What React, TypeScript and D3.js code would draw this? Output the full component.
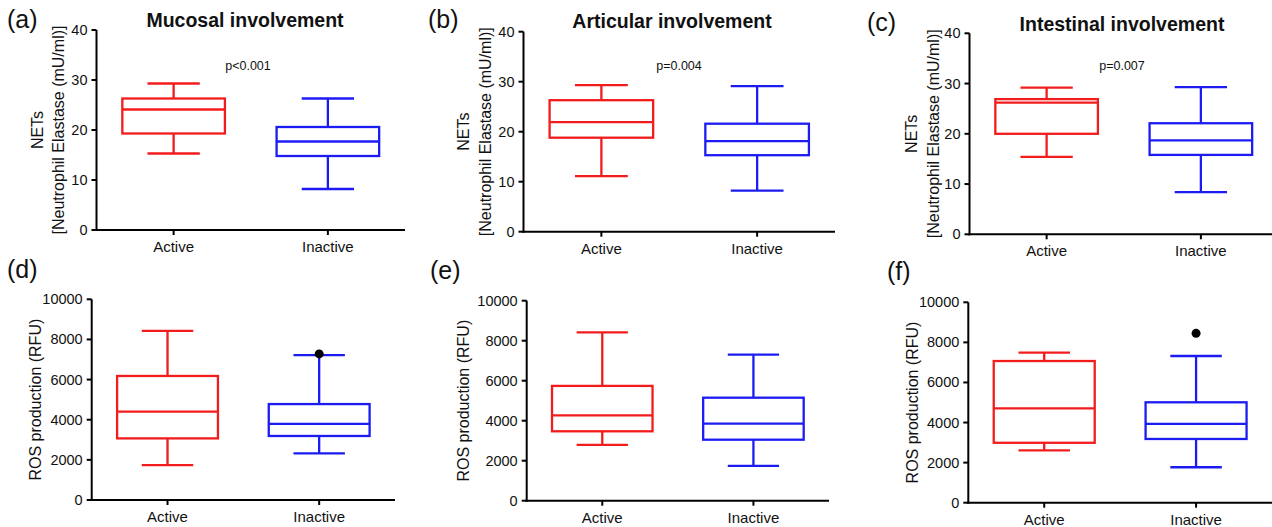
import React from "react";
import * as d3 from "d3";

const groups = ["Active", "Inactive"];
const panelLetters = ["(a)", "(b)", "(c)", "(d)", "(e)", "(f)"];
const panelTitles = ["Mucosal involvement", "Articular involvement", "Intestinal involvement", "", "", ""];
const pLabels = ["p<0.001", "p=0.004", "p=0.007", "", "", ""];
const netsLabel = ["NETs", "[Neutrophil Elastase (mU/ml)]"];
const rosLabel = ["ROS production (RFU)"];
const netsTicks = [0, 10, 20, 30, 40];
const rosTicks = [0, 2000, 4000, 6000, 8000, 10000];

// [min, q1, median, q3, max]
const activeStats = [
  [15.3, 19.3, 24.1, 26.3, 29.3],
  [11.1, 18.8, 21.9, 26.3, 29.3],
  [15.4, 20.0, 26.2, 26.9, 29.2],
  [1740, 3070, 4400, 6180, 8430],
  [2790, 3470, 4270, 5740, 8420],
  [2610, 2990, 4710, 7070, 7490],
];
const inactiveStats = [
  [8.2, 14.8, 17.7, 20.6, 26.3],
  [8.2, 15.3, 18.1, 21.6, 29.1],
  [8.4, 15.8, 18.7, 22.1, 29.3],
  [2320, 3190, 3790, 4780, 7220],
  [1740, 3050, 3850, 5150, 7300],
  [1770, 3180, 3930, 5010, 7320],
];
const outlierPanels = [3, 5];
const outlierGroups = ["Inactive", "Inactive"];
const outlierValues = [7280, 8450];

// layout (pixel frames of each panel)
const frames = [
  { x0: 96.5, x1: 405, yTop: 30, yBot: 230, yl: [-59, -38], title: [245, 27], letter: [7, 28], p: [248, 70] },
  { x0: 523.5, x1: 835, yTop: 31.7, yBot: 231.7, yl: [-60, -38.5], title: [672, 28], letter: [428, 28], p: [679, 70] },
  { x0: 969.5, x1: 1278, yTop: 33.3, yBot: 234.3, yl: [-58, -36], title: [1122, 31], letter: [867, 31], p: [1122, 70] },
  { x0: 91.7, x1: 395, yTop: 299.3, yBot: 500, yl: [-56], title: [0, 0], letter: [7, 278], p: [0, 0] },
  { x0: 526.7, x1: 829, yTop: 300.7, yBot: 500.7, yl: [-63.5], title: [0, 0], letter: [430, 279], p: [0, 0] },
  { x0: 968.3, x1: 1272, yTop: 302.3, yBot: 502.7, yl: [-56], title: [0, 0], letter: [887, 280], p: [0, 0] },
];

const RED = "#f21c1c";
const BLUE = "#1c1cf2";
const FONT = "'Liberation Sans', Arial, sans-serif";

function Panel({ i }: { i: number }) {
  const f = frames[i];
  const isNets = i < 3;
  const ticks = isNets ? netsTicks : rosTicks;
  const y = d3.scaleLinear().domain([0, ticks[ticks.length - 1]]).range([f.yBot, f.yTop]);
  const x = d3.scalePoint<string>().domain(groups).range([f.x0, f.x1]).padding(0.5);
  const step = x.step();
  const boxW = step * 0.665;
  const capW = boxW * 0.51;
  const stats = [activeStats[i], inactiveStats[i]];
  const colors = [RED, BLUE];
  const labels = isNets ? netsLabel : rosLabel;
  const midY = (f.yTop + f.yBot) / 2;
  return (
    <g>
      {groups.map((g, gi) => {
        const s = stats[gi];
        const cx = x(g)!;
        const c = colors[gi];
        return (
          <g key={g} stroke={c} strokeWidth={2.3} fill="none">
            <line x1={cx} x2={cx} y1={y(s[0])} y2={y(s[1])} />
            <line x1={cx} x2={cx} y1={y(s[3])} y2={y(s[4])} />
            <line x1={cx - capW / 2} x2={cx + capW / 2} y1={y(s[0])} y2={y(s[0])} />
            <line x1={cx - capW / 2} x2={cx + capW / 2} y1={y(s[4])} y2={y(s[4])} />
            <rect x={cx - boxW / 2} y={y(s[3])} width={boxW} height={y(s[1]) - y(s[3])} />
            <line x1={cx - boxW / 2} x2={cx + boxW / 2} y1={y(s[2])} y2={y(s[2])} />
          </g>
        );
      })}
      {outlierPanels.map((p, k) =>
        p === i ? <circle key={k} cx={x(outlierGroups[k])!} cy={y(outlierValues[k])} r={4.5} fill="#000" /> : null
      )}
      <line x1={f.x0} x2={f.x0} y1={f.yTop} y2={f.yBot + 1} stroke="#000" strokeWidth={2} />
      <line x1={f.x0 - 1} x2={f.x1} y1={f.yBot} y2={f.yBot} stroke="#000" strokeWidth={2} />
      {ticks.map((t) => (
        <g key={t}>
          <line x1={f.x0 - 5} x2={f.x0} y1={y(t)} y2={y(t)} stroke="#000" strokeWidth={2} />
          <text x={f.x0 - 9} y={y(t) + 5} textAnchor="end" fontSize={14.5} fontFamily={FONT} fill="#111">
            {t}
          </text>
        </g>
      ))}
      {groups.map((g) => (
        <g key={g}>
          <line x1={x(g)} x2={x(g)} y1={f.yBot} y2={f.yBot + 5} stroke="#000" strokeWidth={2} />
          <text x={x(g)} y={f.yBot + 22} textAnchor="middle" fontSize={15} fontFamily={FONT} fill="#111">
            {g}
          </text>
        </g>
      ))}
      {labels.map((l, li) => (
        <text
          key={l}
          transform={`translate(${f.x0 + f.yl[li]},${midY}) rotate(-90)`}
          dy="0.35em"
          textAnchor="middle"
          fontSize={16}
          fontFamily={FONT}
          fill="#111"
        >
          {l}
        </text>
      ))}
      <text x={f.letter[0]} y={f.letter[1]} fontSize={25} fontFamily={FONT} fill="#111">
        {panelLetters[i]}
      </text>
      {panelTitles[i] && (
        <text x={f.title[0]} y={f.title[1]} textAnchor="middle" fontSize={19.5} fontWeight="bold" fontFamily={FONT} fill="#111">
          {panelTitles[i]}
        </text>
      )}
      {pLabels[i] && (
        <text x={f.p[0]} y={f.p[1]} textAnchor="middle" fontSize={12.5} fontFamily={FONT} fill="#111">
          {pLabels[i]}
        </text>
      )}
    </g>
  );
}

export default function App() {
  return (
    <svg width={1272} height={527} style={{ position: "absolute", left: 0, top: 0, background: "#fff" }}>
      <rect width={1272} height={527} fill="#fff" />
      {frames.map((_, i) => (
        <Panel key={i} i={i} />
      ))}
    </svg>
  );
}
